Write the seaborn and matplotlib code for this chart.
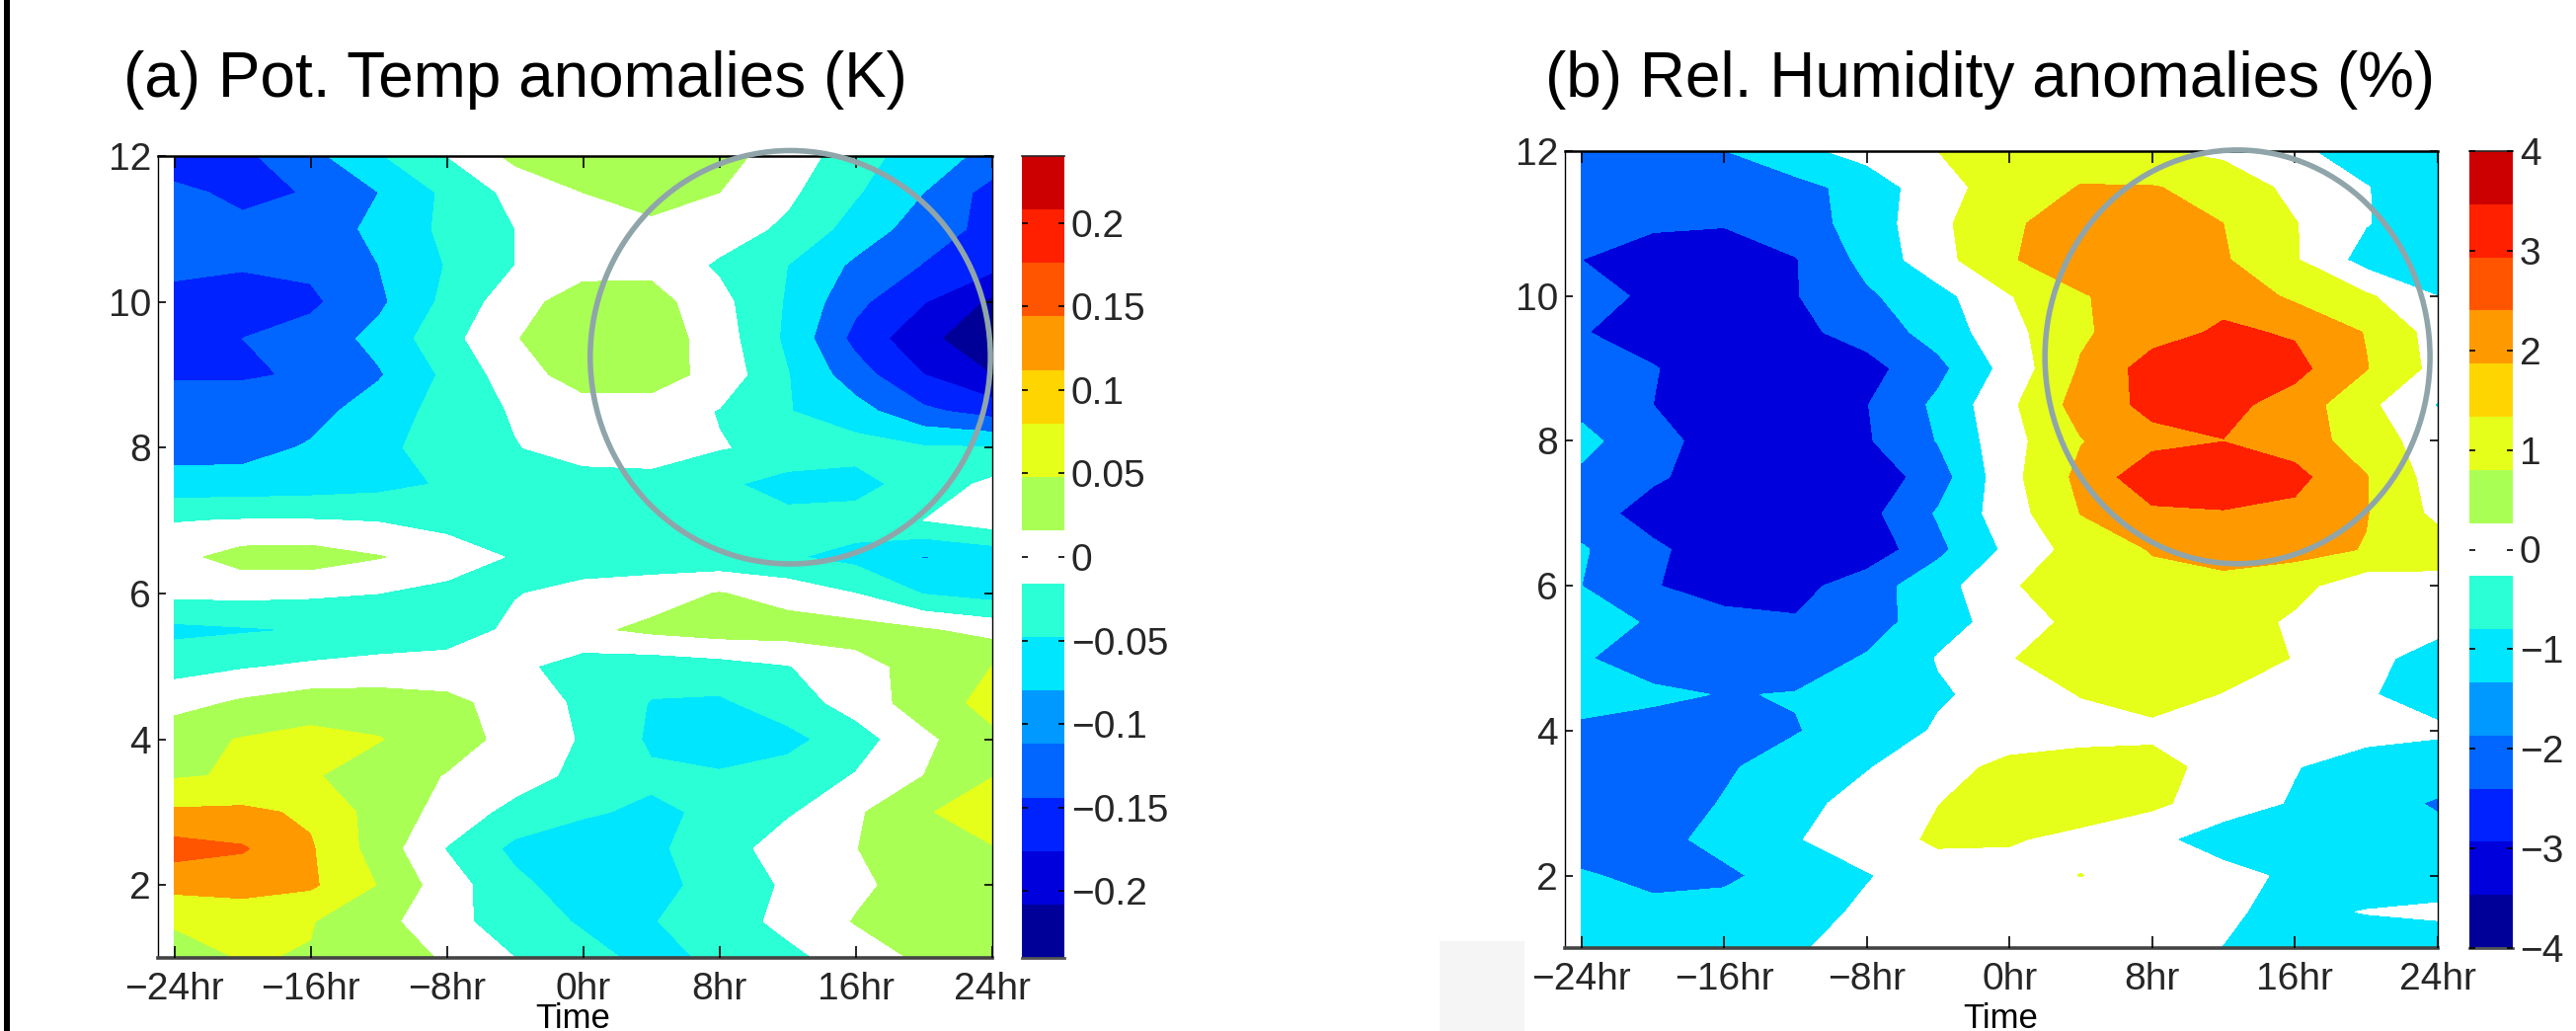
# Composite time-height anomalies, two contourf panels with colour strips
import numpy as np
import matplotlib
matplotlib.use("Agg")
import matplotlib.pyplot as plt
from matplotlib.colors import ListedColormap
from matplotlib.patches import Ellipse, Rectangle
import seaborn as sns

W, H = 2609, 1044

times = [-24, -20, -16, -12, -8, -4, 0, 4, 8, 12, 16, 20, 24]
heights = [12, 11.5, 11, 10.5, 10, 9.5, 9, 8.5, 8, 7.5, 7, 6.5, 6, 5.5, 5, 4.5, 4, 3.5, 3, 2.5, 2, 1.5, 1]

# in multiples of the 0.04 K contour step
pot_temp_rows = [
    [-4.0, -3.7, -2.8, -1.6, -0.5, 0.75, 1.0, 1.0, 0.8, 0.1, -1.1, -2.0, -2.8],
    [-3.3, -3.7, -3.45, -2.5, -1.3, -0.2, 0.5, 1.2, 0.5, -0.3, -1.4, -2.5, -3.9],
    [-3.1, -3.3, -3.2, -2.2, -1.3, -0.5, 0.0, 0.1, 0.0, -0.7, -1.9, -3.0, -3.8],
    [-3.2, -3.4, -3.3, -2.5, -1.45, -0.5, 0.1, 0.2, -0.65, -1.5, -2.7, -3.55, -4.2],
    [-3.9, -4.0, -3.7, -2.7, -1.25, 0.1, 1.0, 0.9, -0.2, -1.6, -3.25, -4.45, -5.7],
    [-3.8, -3.5, -3.1, -2.2, -0.85, 0.45, 1.1, 1.1, 0.0, -1.7, -3.8, -5.25, -6.2],
    [-3.6, -3.6, -3.4, -2.6, -1.3, 0.05, 0.95, 0.95, 0.15, -1.45, -3.05, -4.5, -5.5],
    [-3.0, -3.0, -2.85, -2.0, -1.15, -0.4, 0.05, 0.05, -0.55, -1.45, -2.1, -3.3, -3.9],
    [-2.9, -2.85, -2.4, -1.75, -1.05, -0.55, -0.1, -0.1, -0.45, -0.75, -1.1, -1.4, -1.45],
    [-2.1, -2.1, -2.0, -1.8, -1.4, -1.1, -0.9, -0.8, -1.3, -1.9, -1.9, -1.0, -0.3],
    [-0.55, -0.45, -0.45, -0.55, -0.85, -1.1, -1.1, -1.1, -1.2, -1.2, -1.05, -0.5, 0.0],
    [0.2, 0.9, 0.95, 0.55, 0.05, -0.6, -1.0, -1.1, -1.2, -1.4, -1.8, -2.55, -2.2],
    [-0.3, -0.25, -0.35, -0.5, -0.8, -0.55, -0.2, 0.1, 0.55, 0.1, -0.5, -1.55, -1.9],
    [-1.75, -1.6, -1.45, -1.25, -1.0, -0.3, 0.3, 0.7, 0.95, 0.95, 0.9, 0.6, 0.15],
    [-0.85, -0.6, -0.35, -0.15, -0.1, -0.25, -1.0, -1.1, -0.9, -0.55, 0.15, 0.85, 1.5],
    [0.1, 0.65, 1.0, 0.95, 0.75, 0.1, -0.7, -1.55, -1.65, -1.0, -0.1, 1.0, 1.8],
    [1.2, 1.55, 1.8, 1.55, 0.9, 0.2, -0.6, -1.65, -2.0, -1.8, -0.95, 0.25, 1.3],
    [1.4, 1.6, 1.6, 1.0, 0.45, 0.0, -0.8, -1.35, -1.4, -1.1, -0.45, 0.5, 1.45],
    [2.65, 2.7, 2.35, 1.08, 0.15, -0.85, -1.4, -1.65, -1.35, -0.65, 0.35, 1.35, 2.3],
    [3.9, 3.6, 2.6, 1.05, -0.55, -1.74, -1.95, -1.65, -1.1, 0.1, 0.48, 0.95, 1.4],
    [2.8, 2.85, 2.65, 1.45, -0.05, -1.25, -2.05, -1.9, -1.07, -0.38, 0.3, 0.9, 1.0],
    [1.6, 1.9, 1.55, 0.8, -0.15, -1.05, -1.6, -1.55, -1.05, -0.2, 0.55, 0.9, 1.0],
    [1.1, 1.55, 1.45, 0.95, 0.4, -0.5, -1.2, -1.75, -1.35, -0.8, 0.0, 0.66, 1.0],
]

rel_hum_rows = [
    [-2.2, -2.0, -1.52, -0.8, -0.1, 0.5, 0.9, 0.95, 0.6, 0.25, -0.3, -1.0, -1.2],
    [-2.3, -2.4, -2.3, -1.8, -1.15, 0.2, 0.9, 1.55, 1.55, 1.2, 0.2, -0.46, -1.1],
    [-2.3, -2.4, -2.45, -1.95, -1.1, 0.3, 1.25, 2.3, 2.3, 1.5, 0.55, -0.45, -1.1],
    [-2.5, -2.8, -2.9, -2.55, -1.2, 0.15, 1.4, 2.2, 2.3, 1.6, 0.6, -0.9, -1.2],
    [-2.2, -2.65, -3.0, -2.55, -1.65, -0.85, 0.45, 1.4, 2.1, 2.2, 1.3, 0.65, -0.5],
    [-2.45, -2.9, -3.1, -2.75, -2.1, -1.1, 0.18, 1.35, 2.1, 2.65, 2.4, 1.45, 0.1],
    [-1.9, -2.45, -3.0, -3.2, -2.85, -1.77, -0.13, 1.6, 2.95, 3.1, 2.8, 1.55, 0.2],
    [-1.8, -2.5, -2.95, -3.0, -2.53, -1.29, 0.3, 1.9, 2.76, 2.8, 2.07, 0.74, -0.55],
    [-1.2, -2.2, -2.9, -3.0, -2.6, -1.45, 0.16, 1.45, 2.2, 2.48, 2.05, 0.99, 0.0],
    [-1.7, -2.35, -3.0, -3.1, -3.2, -1.95, 0.2, 1.75, 3.2, 3.4, 2.8, 1.55, 0.05],
    [-2.0, -2.95, -3.2, -3.2, -2.8, -1.4, 0.05, 1.52, 2.3, 2.4, 2.25, 1.55, 0.25],
    [-1.4, -2.3, -3.1, -3.1, -3.16, -1.73, -0.28, 0.94, 1.55, 1.9, 1.85, 1.45, 1.05],
    [-1.5, -2.45, -2.9, -2.85, -1.95, -0.9, 0.35, 1.3, 1.25, 1.2, 0.8, -0.1, 0.1],
    [-1.1, -1.6, -2.2, -2.4, -2.0, -0.85, -0.14, 0.86, 1.05, 1.0, 0.34, 0.1, -0.2],
    [-1.4, -2.0, -2.2, -2.05, -1.4, -0.45, 0.45, 1.0, 1.2, 1.1, 0.45, -0.25, -0.86],
    [-1.1, -1.3, -1.55, -1.45, -1.2, -0.6, -0.2, 0.55, 1.0, 0.45, 0.1, -0.4, -1.0],
    [-1.7, -1.9, -2.0, -1.55, -1.05, -0.4, -0.25, 0.0, 0.2, 0.15, 0.1, -0.1, -0.3],
    [-2.0, -2.0, -1.6, -1.15, -0.55, 0.0, 0.85, 1.05, 0.95, 0.03, -0.45, -1.0, -1.2],
    [-2.1, -1.9, -1.45, -0.75, -0.2, 0.48, 1.0, 1.1, 0.7, 0.0, -0.6, -1.3, -1.55],
    [-2.0, -1.75, -1.25, -0.55, -0.1, 0.7, 0.6, 0.2, -0.25, -1.0, -1.2, -1.3, -1.35],
    [-1.4, -1.75, -1.65, -1.15, -0.55, -0.1, 0.1, 0.52, 0.1, -0.15, -0.7, -1.3, -1.4],
    [-1.15, -1.25, -1.2, -0.85, -0.35, -0.15, -0.1, -0.1, -0.2, -0.35, -0.8, -0.45, -0.2],
    [-1.1, -1.1, -1.0, -0.58, -0.2, -0.15, -0.1, -0.1, -0.2, -0.52, -1.0, -1.2, -1.45],
]

# colour strip bands, bottom to top
strip_colors = ["#000099", "#0000DD", "#0022FF", "#0066FF", "#0099FF", "#00E6FF", "#2BFFD5", "#FFFFFF",
                "#AAFF55", "#E6FF1A", "#FFD500", "#FF9900", "#FF5500", "#FF2000", "#CC0000"]
pot_temp_fill = ["#000099", "#0000DD", "#0022FF", "#0066FF", "#00E6FF", "#2BFFD5", "#FFFFFF",
                 "#AAFF55", "#E6FF1A", "#FF9900", "#FF5500"]
rel_hum_fill = ["#0000DD", "#0066FF", "#00E6FF", "#FFFFFF", "#E6FF1A", "#FF9900", "#FF2000"]

time_ticks = [-24, -16, -8, 0, 8, 16, 24]
time_labels = ["\u221224hr", "\u221216hr", "\u22128hr", "0hr", "8hr", "16hr", "24hr"]
height_ticks = [2, 4, 6, 8, 10, 12]
pot_temp_ticks = [0.2, 0.15, 0.1, 0.05, 0, -0.05, -0.1, -0.15, -0.2]
pot_temp_tick_labels = ["0.2", "0.15", "0.1", "0.05", "0", "\u22120.05", "\u22120.1", "\u22120.15", "\u22120.2"]
rel_hum_ticks = [4, 3, 2, 1, 0, -1, -2, -3, -4]
rel_hum_tick_labels = ["4", "3", "2", "1", "0", "\u22121", "\u22122", "\u22123", "\u22124"]

sns.set_style("white")
plt.rcParams["font.family"] = ["Liberation Sans", "DejaVu Sans"]

fig = plt.figure(figsize=(W / 100, H / 100), dpi=100)


def pixel_axes(left, top, right, bottom):
    return fig.add_axes([left / W, 1 - bottom / H, (right - left) / W, (bottom - top) / H])


def draw_panel(box, values, levels, fill, xmin, circle, title, title_x, time_x):
    ax = pixel_axes(*box)
    ax.contourf(times, heights, values, levels=levels, colors=fill)
    ax.set_axisbelow(False)
    ax.set_xlim(xmin, 24)
    ax.set_ylim(1, 12)
    ax.set_xticks(time_ticks)
    ax.set_xticklabels(time_labels, fontsize=28)
    ax.set_yticks(height_ticks)
    ax.set_yticklabels([str(h) for h in height_ticks], fontsize=28)
    ax.tick_params(axis="x", direction="in", top=True, bottom=True, length=8.5, width=1.2, pad=10, color="black")
    ax.tick_params(axis="y", direction="in", left=True, right=True, length=5.5, width=1.2, pad=5, color="black")
    for side in ax.spines:
        ax.spines[side].set_color("black")
        ax.spines[side].set_linewidth(1.0)
    ax.spines["top"].set_linewidth(1.8)
    ax.spines["bottom"].set_color("#444444")
    ax.spines["bottom"].set_linewidth(2.6)
    cx, cy, ew, eh = circle
    ax.add_patch(Ellipse((cx, cy), ew, eh, fill=False, edgecolor="#8FA5AA", linewidth=4, clip_on=False, zorder=5))
    fig.text(title_x / W, 1 - 98 / H, title, fontsize=46, ha="left", va="baseline", color="black")
    fig.text(time_x / W, 1 - 1041 / H, "Time", fontsize=25, ha="center", va="baseline", color="black")
    return ax


def draw_strip(box, top_value, ticks, tick_labels):
    cax = pixel_axes(*box)
    n = len(strip_colors)
    cells = np.arange(n)[::-1].reshape(-1, 1)
    sns.heatmap(cells, ax=cax, cmap=ListedColormap(strip_colors), cbar=False,
                xticklabels=False, yticklabels=False, vmin=-0.5, vmax=n - 0.5)
    cax.set_axisbelow(False)
    step = 2 * top_value / n
    cax.set_yticks([(top_value - t) / step for t in ticks])
    cax.set_yticklabels(tick_labels, fontsize=28, rotation=0)
    cax.tick_params(axis="y", direction="in", left=True, right=True, labelleft=False, labelright=True,
                    length=4, width=1.2, pad=5, color="black")
    cax.set_xticks([])
    cax.spines["top"].set_visible(True)
    cax.spines["top"].set_linewidth(1.2)
    cax.spines["bottom"].set_visible(True)
    cax.spines["bottom"].set_color("#555555")
    cax.spines["bottom"].set_linewidth(2)


pot_temp = np.array(pot_temp_rows) * 0.04
pot_temp_levels = np.arange(-6.5, 5.5) * 0.04
rel_hum = np.array(rel_hum_rows)
rel_hum_levels = np.arange(-3.5, 4.5)

draw_panel((160, 158, 1004.5, 970), pot_temp, pot_temp_levels, pot_temp_fill, -24.96,
           (12.17, 9.24, 23.5, 5.67), "(a) Pot. Temp anomalies (K)", 125, 580)
draw_strip((1035, 158, 1078, 970), 0.24, pot_temp_ticks, pot_temp_tick_labels)

draw_panel((1585, 153, 2468.5, 960), rel_hum, rel_hum_levels, rel_hum_fill, -24.94,
           (12.79, 9.16, 21.6, 5.71), "(b) Rel. Humidity anomalies (%)", 1565, 2026)
draw_strip((2501, 153, 2545, 960), 4, rel_hum_ticks, rel_hum_tick_labels)

# crop leftovers of the source page: black bar on the left, pale box under panel b
fig.add_artist(Rectangle((4 / W, 0), 6 / W, 1, transform=fig.transFigure, color="black", lw=0))
fig.add_artist(Rectangle((1458 / W, 0), 86 / W, 91 / H, transform=fig.transFigure, color="#F5F5F5", lw=0, zorder=-1))

fig.savefig("out.png", dpi=100)
